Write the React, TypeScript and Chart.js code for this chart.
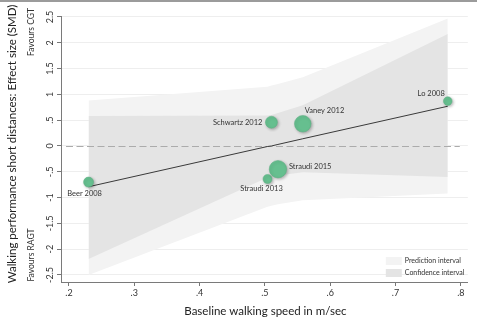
import React, { useEffect, useRef } from "react";
import { Chart, registerables } from "chart.js";

Chart.register(...registerables);

// Studies in the meta-regression
const studyNames = ["Beer 2008", "Straudi 2013", "Schwartz 2012", "Straudi 2015", "Vaney 2012", "Lo 2008"];
const baselineSpeed = [0.23, 0.504, 0.51, 0.52, 0.558, 0.78];
const effectSize = [-0.7, -0.64, 0.46, -0.45, 0.43, 0.87];
const studyWeight = [5, 4.5, 6, 8.7, 8.3, 4.3];

// Fitted meta-regression line and its intervals, evaluated at the study speeds
const bandSpeed = [0.23, 0.504, 0.51, 0.52, 0.558, 0.78];
const fittedEffect = [-0.79, -0.01, 0.0, 0.03, 0.14, 0.77];
const ciUpper = [0.58, 0.59, 0.6, 0.64, 0.79, 2.17];
const ciLower = [-2.19, -0.61, -0.6, -0.57, -0.51, -0.6];
const piUpper = [0.88, 1.15, 1.17, 1.2, 1.33, 2.47];
const piLower = [-2.5, -1.18, -1.16, -1.13, -1.05, -0.92];

// Axis ticks
const xTicks = [0.2, 0.3, 0.4, 0.5, 0.6, 0.7, 0.8];
const yTicks = [2.5, 2, 1.5, 1, 0.5, 0, -0.5, -1, -1.5, -2, -2.5];

const legendItems = ["Prediction interval", "Confidence interval"];

// Label placement around each bubble: [dx, dy, align]
const labelPlacement: [number, number, CanvasTextAlign][] = [
  [-4, 11, "center"],
  [-6, 10, "center"],
  [-9, 0, "right"],
  [11, -3, "left"],
  [2, -13, "left"],
  [-3, -8, "right"],
];

const FONT = "Lato, 'Open Sans', sans-serif";
const PI_COLOR = "#f3f3f3";
const CI_COLOR = "#e4e4e4";
const DOT_COLOR = "#66bf8f";

const fmt = (v: number) => {
  const s = String(Math.round(v * 10) / 10);
  return s.replace(/^(-?)0\./, "$1.");
};

const toPts = (xs: number[], ys: number[]) => xs.map((x, i) => ({ x, y: ys[i] }));

export default function App() {
  const ref = useRef<HTMLCanvasElement | null>(null);

  useEffect(() => {
    document.body.style.margin = "0";
    const canvas = ref.current;
    if (!canvas) return;

    const FIT_INDEX = 4;
    const DOT_INDEX = 5;

    const decor = {
      id: "decor",
      beforeDraw(chart: any) {
        const ctx = chart.ctx;
        ctx.save();
        ctx.fillStyle = "#ffffff";
        ctx.fillRect(0, 0, chart.width, chart.height);
        ctx.restore();
      },
      beforeDatasetDraw(chart: any, args: any) {
        const ctx = chart.ctx;
        if (args.index === FIT_INDEX) {
          // reference line at zero effect
          const y0 = chart.scales.y.getPixelForValue(0);
          const { left, right } = chart.chartArea;
          ctx.save();
          ctx.strokeStyle = "#ababab";
          ctx.lineWidth = 1;
          ctx.setLineDash([7, 3.5]);
          ctx.beginPath();
          ctx.moveTo(left + 5, Math.round(y0) + 0.5);
          ctx.lineTo(right - 8, Math.round(y0) + 0.5);
          ctx.stroke();
          ctx.restore();
        }
        if (args.index === DOT_INDEX) {
          ctx.save();
          ctx.shadowColor = "rgba(0,0,0,0.28)";
          ctx.shadowBlur = 3;
          ctx.shadowOffsetX = 1.2;
          ctx.shadowOffsetY = 1.2;
        }
      },
      afterDatasetDraw(chart: any, args: any) {
        if (args.index === DOT_INDEX) chart.ctx.restore();
      },
      afterDraw(chart: any) {
        const ctx = chart.ctx;
        const xs = chart.scales.x;
        const ys = chart.scales.y;
        const area = chart.chartArea;
        ctx.save();

        // frame line along the top
        ctx.fillStyle = "#9b9b9b";
        ctx.fillRect(0, 0, chart.width, 2);

        // rotated y tick labels
        ctx.fillStyle = "#333";
        ctx.font = `9px ${FONT}`;
        ctx.textAlign = "center";
        ctx.textBaseline = "middle";
        yTicks.forEach((v) => {
          const py = ys.getPixelForValue(v);
          ctx.save();
          ctx.translate(area.left - 11, py);
          ctx.rotate(-Math.PI / 2);
          ctx.fillText(fmt(v), 0, 0);
          ctx.restore();
        });

        // favours annotations
        ctx.font = `8.5px ${FONT}`;
        const vertical = (txt: string, x: number, y: number) => {
          ctx.save();
          ctx.translate(x, y);
          ctx.rotate(-Math.PI / 2);
          ctx.fillText(txt, 0, 0);
          ctx.restore();
        };
        vertical("Favours CGT", 31, 32);
        vertical("Favours RAGT", 31, 255);

        // y axis title
        ctx.font = `11.5px ${FONT}`;
        ctx.fillStyle = "#222";
        vertical("Walking performance short distances: Effect size (SMD)", 12, 144);

        // x axis title
        ctx.textAlign = "center";
        ctx.fillText("Baseline walking speed in m/sec", (area.left + area.right) / 2 + 1, 311);

        // study labels
        ctx.font = `7.5px ${FONT}`;
        ctx.fillStyle = "#333";
        studyNames.forEach((name, i) => {
          const px = xs.getPixelForValue(baselineSpeed[i]);
          const py = ys.getPixelForValue(effectSize[i]);
          const [dx, dy, align] = labelPlacement[i];
          ctx.textAlign = align;
          ctx.fillText(name, px + dx, py + dy);
        });

        // legend
        const lx = area.right - 82;
        const ly = area.bottom - 25;
        [PI_COLOR, CI_COLOR].forEach((c, i) => {
          ctx.fillStyle = c;
          ctx.fillRect(lx, ly + i * 12, 16, 8);
          ctx.fillStyle = "#333";
          ctx.font = `7px ${FONT}`;
          ctx.textAlign = "left";
          ctx.fillText(legendItems[i], lx + 19, ly + i * 12 + 4);
        });

        ctx.restore();
      },
    };

    const chart = new Chart(canvas, {
      type: "scatter",
      data: {
        datasets: [
          {
            type: "line",
            data: toPts(bandSpeed, piUpper),
            fill: "+1",
            backgroundColor: PI_COLOR,
            borderWidth: 0,
            pointRadius: 0,
            order: 10,
          },
          {
            type: "line",
            data: toPts(bandSpeed, piLower),
            fill: false,
            borderWidth: 0,
            pointRadius: 0,
            order: 10,
          },
          {
            type: "line",
            data: toPts(bandSpeed, ciUpper),
            fill: "+1",
            backgroundColor: CI_COLOR,
            borderWidth: 0,
            pointRadius: 0,
            order: 8,
          },
          {
            type: "line",
            data: toPts(bandSpeed, ciLower),
            fill: false,
            borderWidth: 0,
            pointRadius: 0,
            order: 8,
          },
          {
            type: "line",
            data: toPts(bandSpeed, fittedEffect),
            fill: false,
            borderColor: "#3a3a3a",
            borderWidth: 1,
            pointRadius: 0,
            order: 3,
          },
          {
            type: "bubble",
            data: baselineSpeed.map((x, i) => ({ x, y: effectSize[i], r: studyWeight[i] })),
            backgroundColor: DOT_COLOR,
            borderColor: "#5cb183",
            borderWidth: 0.5,
            order: 1,
          },
        ] as any,
      },
      options: {
        animation: false,
        responsive: false,
        devicePixelRatio: 1,
        layout: { padding: { top: 16, right: 7, left: 0, bottom: 0 } },
        plugins: { legend: { display: false }, tooltip: { enabled: false } },
        scales: {
          x: {
            type: "linear",
            min: 0.1878,
            max: 0.8107,
            afterBuildTicks: (s: any) => {
              s.ticks = xTicks.map((value) => ({ value }));
            },
            afterFit: (s: any) => {
              s.height = 35;
            },
            grid: { drawOnChartArea: false, drawTicks: true, tickLength: 4, tickColor: "#777" },
            border: { color: "#7a7a7a", width: 1 },
            ticks: {
              callback: (v: any) => fmt(Number(v)),
              font: { family: FONT, size: 9 },
              color: "#333",
              padding: 2,
              maxRotation: 0,
              autoSkip: false,
            },
          },
          y: {
            type: "linear",
            min: -2.636,
            max: 2.519,
            afterBuildTicks: (s: any) => {
              s.ticks = yTicks.map((value) => ({ value }));
            },
            afterFit: (s: any) => {
              s.width = 61;
            },
            grid: { color: "#eeeeee", drawTicks: true, tickLength: 4, tickColor: "#777" },
            border: { color: "#7a7a7a", width: 1 },
            ticks: { display: false },
          },
        },
      },
      plugins: [decor],
    });

    return () => chart.destroy();
  }, []);

  return (
    <div style={{ width: 477, height: 317, position: "relative" }}>
      <canvas ref={ref} width={477} height={317} style={{ display: "block" }} />
    </div>
  );
}
